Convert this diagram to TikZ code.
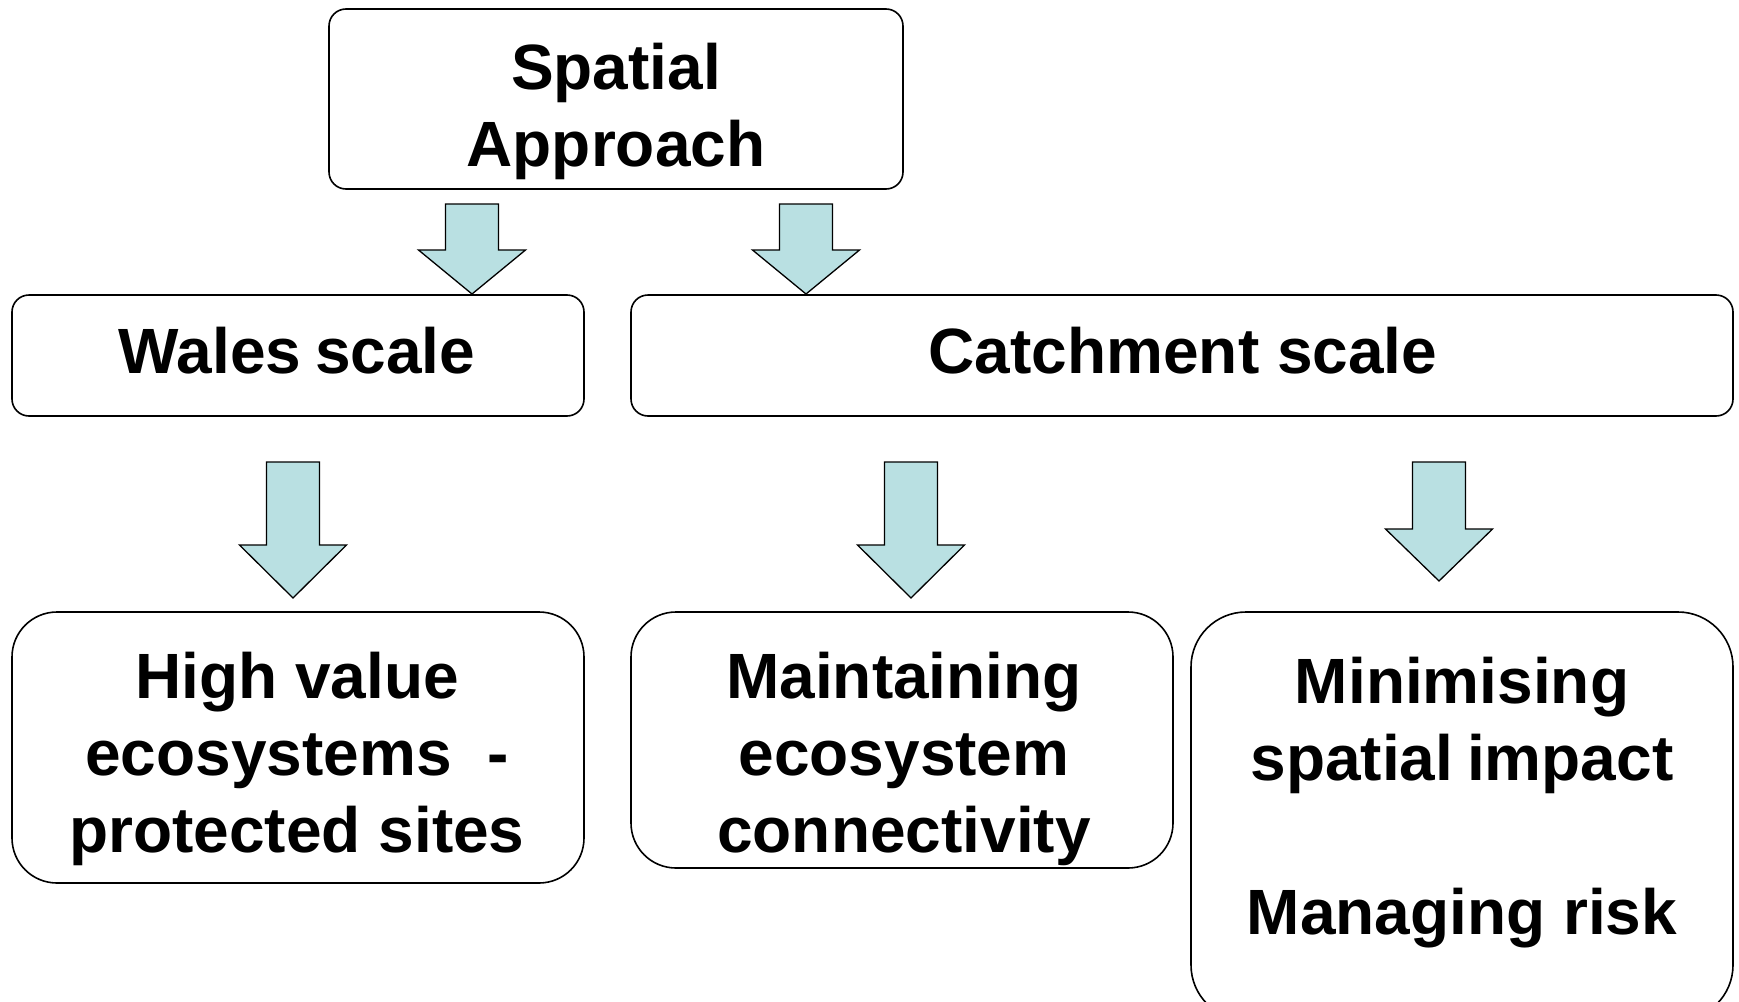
\documentclass[tikz,border=0pt]{standalone}
\usepackage{fontspec}
\setmainfont{Liberation Sans}
\definecolor{arrowfill}{RGB}{185,224,226}
\begin{document}
\begin{tikzpicture}[x=1pt,y=-1pt,
  box/.style={draw=black,line width=1.6pt,rounded corners=#1,fill=white,inner sep=0pt},
  box/.default=17pt,
  txt/.style={font=\fontsize{64}{77}\selectfont\bfseries,align=center,inner sep=0pt},
  barrow/.style={draw=black,line width=1.3pt,fill=arrowfill,line join=miter}]
\useasboundingbox (0,0) rectangle (1739,1001);
\fill[white] (0,0) rectangle (1739,1001);
% boxes
\node[box,minimum width=574pt,minimum height=180pt] (top) at (616,99) {};
\node[box,minimum width=572pt,minimum height=121pt] (wales) at (298,355.5) {};
\node[box,minimum width=1102pt,minimum height=121pt] (catch) at (1182,355.5) {};
\node[box=45pt,minimum width=572pt,minimum height=271pt] (high) at (298,747.5) {};
\node[box=45pt,minimum width=542pt,minimum height=256pt] (maint) at (902,740) {};
\node[box=55pt,minimum width=542pt,minimum height=408pt] (mini) at (1462,816) {};
% texts
\node[txt] (ttop) at (616,111) {Spatial\\Approach};
\node[txt] (twales) at (297,351) {Wales\hspace{-4pt} scale};
\node[txt] (tcatch) at (1183,351) {Catchment scale};
\node[txt] (thigh) at (297,758.5) {High value\\ecosystems\ \ -\\protected sites};
\node[txt] (tmaint) at (904,758.5) {Maintaining\\ecosystem\\connectivity};
\node[txt] (tmini) at (1462,802.5) {Minimising\\spatial\hspace{-4pt} impact\\[77pt]Managing risk};
% block arrows: \barr{x}{top}{headbase}{tip}
\newcommand{\barr}[4]{%
  \draw[barrow] (#1-26.5,#2) -- (#1+26.5,#2) -- (#1+26.5,#3) -- (#1+53.5,#3)
    -- (#1,#4) -- (#1-53.5,#3) -- (#1-26.5,#3) -- cycle;}
\barr{472}{204}{250}{294}
\barr{806}{204}{250}{294}
\barr{293}{462}{545}{598}
\barr{911}{462}{545}{598}
\barr{1439}{462}{529}{581}
\end{tikzpicture}
\end{document}
